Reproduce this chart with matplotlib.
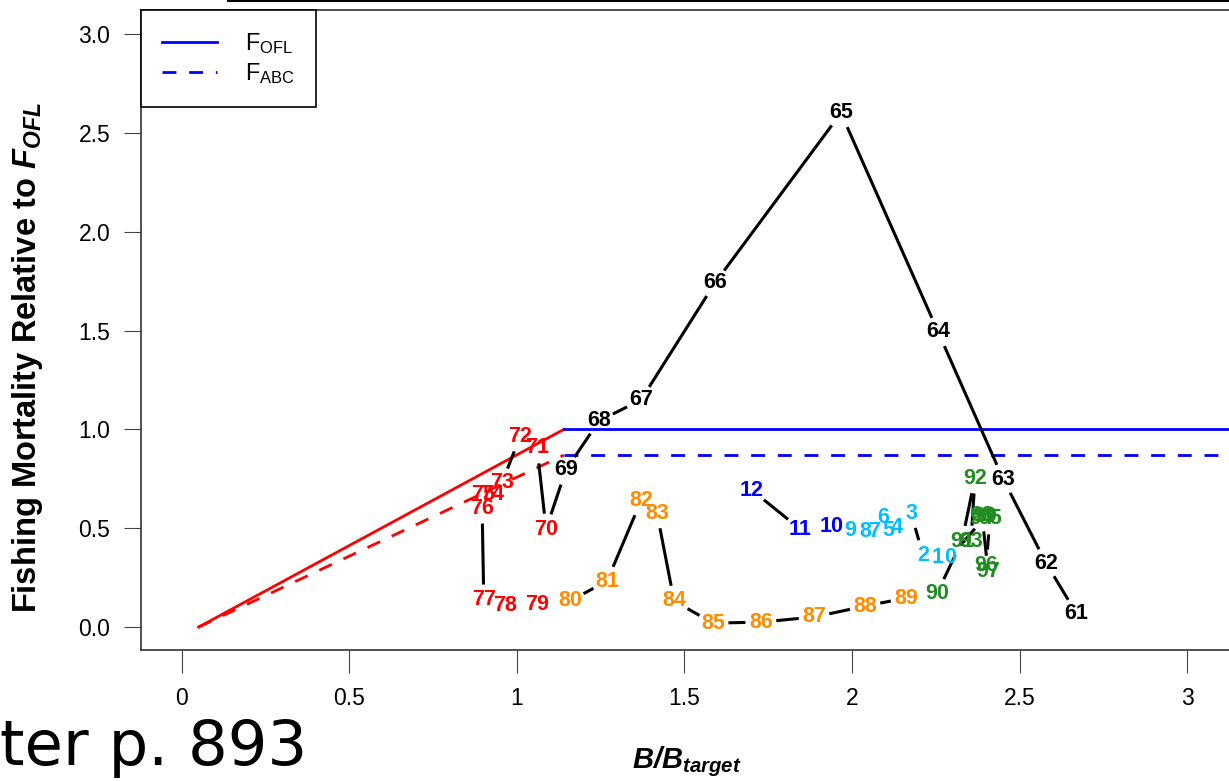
import numpy as np
import matplotlib.pyplot as plt
from matplotlib.lines import Line2D

plt.rcParams['font.family'] = ['Liberation Sans', 'DejaVu Sans']
plt.rcParams['mathtext.fontset'] = 'custom'
plt.rcParams['mathtext.rm'] = 'Liberation Sans'
plt.rcParams['mathtext.it'] = 'Liberation Sans:italic'
plt.rcParams['mathtext.bf'] = 'Liberation Sans:bold'
plt.rcParams['mathtext.bfit'] = 'Liberation Sans:bold:italic'

# years (1961-2012), B/Btarget and F/Fofl
years = ['61', '62', '63', '64', '65', '66', '67', '68', '69',
         '70', '71', '72', '73', '74', '75', '76', '77', '78', '79',
         '80', '81', '82', '83', '84', '85', '86', '87', '88', '89',
         '90', '91', '92', '93', '94', '95', '96', '97', '98', '99',
         '0', '1', '2', '3', '4', '5', '6', '7', '8', '9',
         '10', '11', '12']
b_rel = [2.669, 2.579, 2.451, 2.257, 1.967, 1.591, 1.370, 1.245, 1.146,
         1.087, 1.060, 1.009, 0.955, 0.925, 0.899, 0.896, 0.901, 0.964, 1.060,
         1.158, 1.269, 1.370, 1.418, 1.469, 1.585, 1.728, 1.887, 2.039, 2.161,
         2.254, 2.328, 2.367, 2.355, 2.385, 2.412, 2.400, 2.406, 2.388, 2.397,
         2.293, 2.254, 2.212, 2.176, 2.134, 2.107, 2.093, 2.066, 2.039, 1.994,
         1.940, 1.845, 1.701]
f_rel = [0.071, 0.324, 0.749, 1.493, 2.601, 1.741, 1.149, 1.043, 0.795,
         0.496, 0.906, 0.962, 0.729, 0.673, 0.673, 0.602, 0.137, 0.111, 0.116,
         0.132, 0.233, 0.638, 0.577, 0.132, 0.020, 0.025, 0.051, 0.106, 0.147,
         0.172, 0.435, 0.754, 0.435, 0.547, 0.547, 0.314, 0.283, 0.562, 0.557,
         0.354, 0.354, 0.364, 0.577, 0.506, 0.491, 0.552, 0.486, 0.486, 0.491,
         0.511, 0.496, 0.693]

# decade colours
cols = (['black'] * 9 + ['red'] * 10 + ['darkorange'] * 10 + ['forestgreen'] * 10
        + ['deepskyblue'] * 10 + ['blue'] * 3)

# harvest control rule
b_lim = 0.05
b_break = 1.14
f_ofl = 1.0
f_abc = 0.87

fig = plt.figure(figsize=(12.29, 7.81), dpi=100)
ax = fig.add_axes([141/1229, 131/781, 1091/1229, 640/781])
ax.set_xlim(-0.122, 3.134)
ax.set_ylim(-0.116, 3.122)

ax.plot([b_lim, b_break], [0, f_ofl], color='red', lw=2)
ax.plot([b_lim, b_break], [0, f_abc], color='red', lw=2, ls=(0, (5, 4.6)))
ax.plot([b_break, 3.3], [f_ofl, f_ofl], color='blue', lw=2)
ax.plot([b_break, 3.3], [f_abc, f_abc], color='blue', lw=2, ls=(0, (5, 4.6)))

# lines between years, with a gap round each label (like R type="c")
gap = 17
tr = ax.transData
pts = tr.transform(np.column_stack([b_rel, f_rel]))
for i in range(len(pts) - 1):
    p, q = pts[i], pts[i + 1]
    d = q - p
    L = np.hypot(d[0], d[1])
    if L > 2 * gap:
        a = tr.inverted().transform(p + d / L * gap)
        b = tr.inverted().transform(q - d / L * gap)
        ax.plot([a[0], b[0]], [a[1], b[1]], color='black', lw=2.2)

for i in range(len(years)):
    ax.text(b_rel[i], f_rel[i], years[i], color=cols[i], fontsize=15.5,
            fontweight='bold', ha='center', va='center')

handles = [Line2D([], [], color='blue', lw=2),
           Line2D([], [], color='blue', lw=2, ls=(0, (5, 4.6)))]
leg = ax.legend(handles, [r'F$_{\mathrm{OFL}}$', r'F$_{\mathrm{ABC}}$'],
                loc='upper left', borderaxespad=0, fancybox=False,
                edgecolor='black', framealpha=1, fontsize=17,
                handlelength=2.3, handletextpad=1.2, borderpad=0.9,
                labelspacing=0.2)
leg.get_frame().set_linewidth(1.2)

ax.set_xticks([0, 0.5, 1, 1.5, 2, 2.5, 3])
ax.set_xticklabels(['0', '0.5', '1', '1.5', '2', '2.5', '3'])
ax.set_yticks([0, 0.5, 1, 1.5, 2, 2.5, 3])
ax.set_yticklabels(['0.0', '0.5', '1.0', '1.5', '2.0', '2.5', '3.0'])
ax.tick_params(axis='x', length=16.5, pad=10, labelsize=16.5, color='#444')
ax.tick_params(axis='y', length=12, pad=10, labelsize=16.5, color='#444')
for s in ax.spines.values():
    s.set_color('#333')
    s.set_linewidth(1.2)

fig.text(28/1229, 1 - 358/781, r'Fishing Mortality Relative to $\mathbfit{F_{OFL}}$',
         rotation=90, ha='center', va='center', fontsize=23.5, fontweight='bold')
fig.text(687/1229, 1 - 762/781, r'$\mathbfit{B/B}_{\mathbfit{target}}$',
         ha='center', va='center', fontsize=21)

fig.text(0, 1 - 765/781, 'ter p. 893', fontsize=45, family='DejaVu Sans',
         ha='left', va='baseline')
fig.add_artist(Line2D([228/1229, 1], [1 - 1/781, 1 - 1/781], color='black', lw=1.5))

fig.savefig('out.png', dpi=100)
